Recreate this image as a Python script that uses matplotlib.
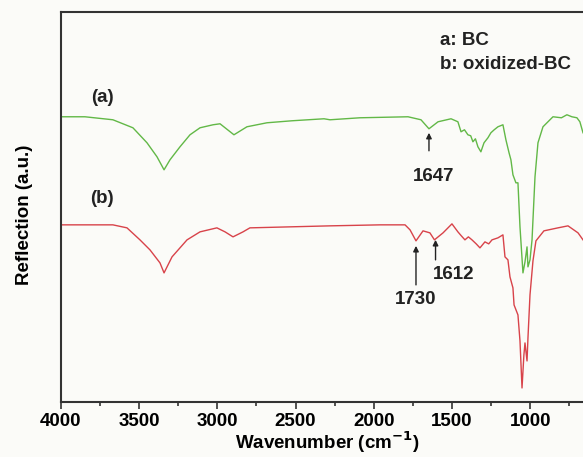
import matplotlib.pyplot as plt
from matplotlib.ticker import MultipleLocator

plt.rcParams['font.family'] = ['Liberation Sans', 'DejaVu Sans']
plt.rcParams['font.weight'] = 'bold'

# FTIR spectra (wavenumber in cm-1, reflection in a.u.)
wn_bc = [4000, 3847, 3668, 3540, 3450, 3386, 3341, 3303, 3239, 3175, 3111,
         3028, 2983, 2894, 2811, 2683, 2523, 2318, 2280, 2088, 1781, 1698,
         1647, 1589, 1506, 1462, 1442, 1420, 1398, 1380, 1366, 1350, 1334,
         1315, 1295, 1270, 1251, 1230, 1206, 1174, 1155, 1135, 1123, 1110,
         1091, 1078, 1065, 1046, 1033, 1020, 1014, 1001, 988, 969, 950, 918,
         854, 800, 765, 733, 701, 682, 662]
refl_bc = [2.85, 2.85, 2.82, 2.74, 2.59, 2.45, 2.32, 2.42, 2.55, 2.67, 2.74,
           2.77, 2.78, 2.67, 2.75, 2.79, 2.81, 2.83, 2.82, 2.84, 2.85, 2.82,
           2.73, 2.80, 2.83, 2.80, 2.70, 2.72, 2.67, 2.66, 2.60, 2.63, 2.55,
           2.50, 2.59, 2.64, 2.69, 2.72, 2.75, 2.77, 2.62, 2.49, 2.42, 2.27,
           2.19, 2.19, 1.75, 1.29, 1.40, 1.55, 1.35, 1.42, 1.62, 2.25, 2.59,
           2.75, 2.85, 2.84, 2.87, 2.85, 2.84, 2.80, 2.69]

wn_obc = [4000, 3668, 3578, 3495, 3431, 3367, 3341, 3290, 3194, 3111, 3003,
          2951, 2900, 2836, 2792, 2536, 2280, 1960, 1800, 1768, 1730, 1685,
          1641, 1612, 1557, 1500, 1462, 1440, 1417, 1395, 1372, 1345, 1321,
          1289, 1265, 1244, 1206, 1174, 1161, 1142, 1129, 1110, 1103, 1078,
          1065, 1052, 1040, 1033, 1020, 1014, 1001, 982, 963, 912, 822, 758,
          694, 662]
refl_obc = [1.77, 1.77, 1.74, 1.62, 1.52, 1.39, 1.29, 1.45, 1.62, 1.70, 1.74,
            1.70, 1.65, 1.70, 1.74, 1.75, 1.76, 1.77, 1.77, 1.72, 1.61, 1.71,
            1.69, 1.62, 1.69, 1.78, 1.70, 1.66, 1.62, 1.65, 1.62, 1.58, 1.54,
            1.60, 1.58, 1.62, 1.64, 1.67, 1.45, 1.42, 1.25, 1.14, 0.97, 0.87,
            0.61, 0.14, 0.47, 0.59, 0.41, 0.64, 1.07, 1.41, 1.61, 1.71, 1.74,
            1.76, 1.69, 1.62]

major_ticks = [4000, 3500, 3000, 2500, 2000, 1500, 1000]

bg = '#fbfbf8'
fig = plt.figure(figsize=(5.83, 4.57), dpi=100, facecolor=bg)
# axes runs past the right edge, the original picture is cropped there
ax = fig.add_axes([0.1046, 0.1204, 0.9657, 0.854], facecolor=bg)

ax.plot(wn_bc, refl_bc, color='#62b847', lw=1.0)
ax.plot(wn_obc, refl_obc, color='#d8434a', lw=1.0)

ax.set_xlim(4000, 400)
ax.set_ylim(0, 3.9)
ax.set_xticks(major_ticks)
ax.xaxis.set_minor_locator(MultipleLocator(250))
ax.set_yticks([])
ax.tick_params(axis='x', which='major', direction='out', length=5, width=1.2,
               labelsize=13.5, color='#333333', pad=3)
ax.tick_params(axis='x', which='minor', direction='out', length=3, width=1.2,
               color='#333333')
for lab in ax.get_xticklabels():
    lab.set_fontweight('bold')
for sp in ax.spines.values():
    sp.set_linewidth(1.5)
    sp.set_color('#333333')

ax.set_xlabel('Wavenumber (cm$^{\\mathbf{-1}}$)', fontsize=13.5, fontweight='bold')
ax.xaxis.set_label_coords(0.4725, -0.07)
ax.set_ylabel('Reflection (a.u.)', fontsize=13.5, fontweight='bold')
ax.yaxis.set_label_coords(-0.05, 0.48)

txt = dict(fontsize=13.5, fontweight='bold', color='#222222')
ax.text(3738, 3.04, '(a)', ha='center', va='center', **txt)
ax.text(3738, 2.03, '(b)', ha='center', va='center', **txt)
ax.text(1577, 3.61, 'a: BC', ha='left', va='center', **txt)
ax.text(1577, 3.37, 'b: oxidized-BC', ha='left', va='center', **txt)

arrow = dict(arrowstyle='-|>', color='#222222', lw=1.0, mutation_scale=8,
             shrinkA=0, shrinkB=0)
ax.annotate('', xy=(1647, 2.69), xytext=(1647, 2.51), arrowprops=arrow)
ax.text(1615, 2.25, '1647', ha='center', va='center', **txt)
ax.annotate('', xy=(1730, 1.56), xytext=(1730, 1.17), arrowprops=arrow)
ax.text(1730, 1.02, '1730', ha='center', va='center', **txt)
ax.annotate('', xy=(1605, 1.62), xytext=(1605, 1.42), arrowprops=arrow)
ax.text(1487, 1.27, '1612', ha='center', va='center', **txt)

fig.savefig('out.png', dpi=100, facecolor=bg)
